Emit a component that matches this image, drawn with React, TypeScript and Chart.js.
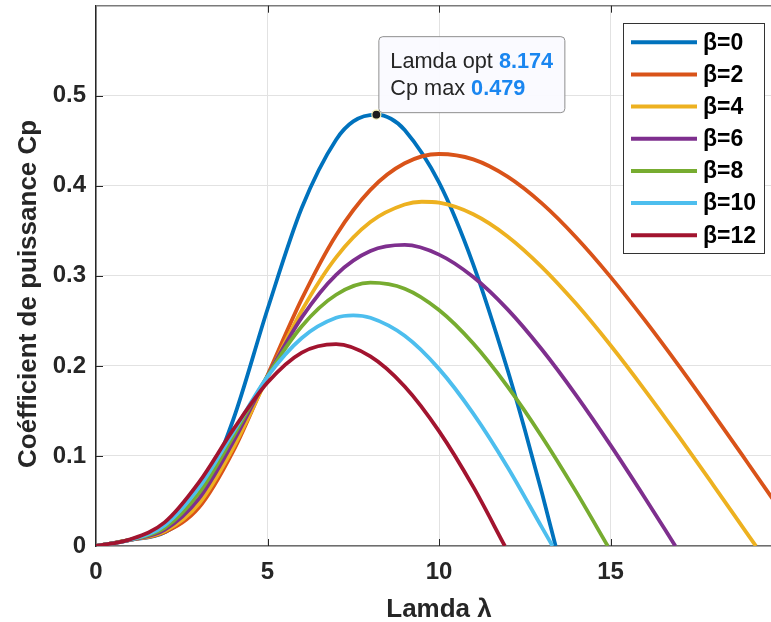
import React, { useEffect, useRef } from 'react';
import { Chart, registerables } from 'chart.js';

Chart.register(...registerables);

// ---- data ----
const LAMBDA_B0 = [0, 1, 2, 3, 4, 5, 6, 7, 7.5, 8.174, 8.6, 9, 10, 11, 12, 12.5, 13, 13.4];
const CP_B0 = [0, 0.0068, 0.0151, 0.0495, 0.1402, 0.2629, 0.3756, 0.4512, 0.4715, 0.479, 0.4745, 0.462, 0.4037, 0.3125, 0.1954, 0.1293, 0.059, 0];

const LAMBDA_B2 = [0, 1, 2, 3, 4, 5, 6, 7, 8, 9, 10, 11, 12, 13, 14, 15, 16, 17, 18, 19, 20];
const CP_B2 = [0, 0.0068, 0.0152, 0.0426, 0.1053, 0.1897, 0.2744, 0.3452, 0.3955, 0.425, 0.4353, 0.4293, 0.4101, 0.3804, 0.3426, 0.2989, 0.2508, 0.1997, 0.1465, 0.0922, 0.0375];

const LAMBDA_B4 = [0, 1, 2, 3, 4, 5, 6, 7, 8, 9, 9.5, 10, 11, 12, 13, 14, 15, 16, 17, 18, 19, 19.24];
const CP_B4 = [0, 0.0068, 0.0163, 0.0469, 0.1091, 0.187, 0.2615, 0.3206, 0.3598, 0.3792, 0.3823, 0.3812, 0.3684, 0.3438, 0.3098, 0.2689, 0.2229, 0.1732, 0.1211, 0.0674, 0.013, 0];

const LAMBDA_B6 = [0, 1, 2, 3, 4, 5, 6, 7, 8, 9, 10, 11, 12, 13, 14, 15, 16, 16.89];
const CP_B6 = [0, 0.0068, 0.0179, 0.0526, 0.1156, 0.1887, 0.2539, 0.3012, 0.3276, 0.3343, 0.3236, 0.2987, 0.2628, 0.2182, 0.1673, 0.112, 0.0536, 0];

const LAMBDA_B8 = [0, 1, 2, 3, 4, 5, 6, 7, 8, 9, 10, 11, 12, 13, 14, 14.92];
const CP_B8 = [0, 0.0069, 0.0201, 0.0587, 0.1215, 0.1888, 0.244, 0.279, 0.2924, 0.2857, 0.262, 0.2248, 0.177, 0.1214, 0.0601, 0];

const LAMBDA_B10 = [0, 1, 2, 3, 4, 5, 6, 7, 7.5, 8, 9, 10, 11, 12, 13, 13.31];
const CP_B10 = [0, 0.007, 0.0229, 0.0648, 0.1261, 0.188, 0.231, 0.2534, 0.2561, 0.2534, 0.2334, 0.1967, 0.147, 0.0875, 0.0207, 0];

const LAMBDA_B12 = [0, 1, 2, 3, 4, 5, 6, 7, 8, 9, 10, 11, 11.92];
const CP_B12 = [0, 0.0074, 0.0262, 0.0706, 0.1292, 0.1815, 0.2148, 0.2242, 0.2106, 0.1772, 0.1276, 0.0656, 0];

const SERIES_LABELS = ['β=0', 'β=2', 'β=4', 'β=6', 'β=8', 'β=10', 'β=12'];
const SERIES_COLORS = ['#0072BD', '#D95319', '#EDB120', '#7E2F8E', '#77AC30', '#4DBEEE', '#A2142F'];
const SERIES_LAMBDA = [LAMBDA_B0, LAMBDA_B2, LAMBDA_B4, LAMBDA_B6, LAMBDA_B8, LAMBDA_B10, LAMBDA_B12];
const SERIES_CP = [CP_B0, CP_B2, CP_B4, CP_B6, CP_B8, CP_B10, CP_B12];

const LAMBDA_OPT = 8.174;
const CP_MAX = 0.479;

const X_TICKS = [0, 5, 10, 15];
const Y_TICKS = [0, 0.1, 0.2, 0.3, 0.4, 0.5];
const X_TITLE = 'Lamda λ';
const Y_TITLE = 'Coéfficient de puissance Cp';

const FONT = '"Liberation Sans", Arial, Helvetica, sans-serif';

const overlayPlugin = {
  id: 'overlay',
  afterDraw(chart: any) {
    const { ctx, chartArea: ca, scales } = chart;
    const xs = scales.x;
    const ys = scales.y;
    ctx.save();

    // top box line
    ctx.strokeStyle = '#7a7a7a';
    ctx.lineWidth = 1.5;
    ctx.beginPath();
    ctx.moveTo(ca.left, ca.top);
    ctx.lineTo(ca.right, ca.top);
    ctx.stroke();

    // inward tick marks
    ctx.strokeStyle = '#262626';
    ctx.lineWidth = 1;
    ctx.beginPath();
    X_TICKS.forEach((v) => {
      if (v === 0) return;
      const px = Math.round(xs.getPixelForValue(v)) + 0.5;
      ctx.moveTo(px, ca.bottom);
      ctx.lineTo(px, ca.bottom - 7);
      ctx.moveTo(px, ca.top);
      ctx.lineTo(px, ca.top + 7);
    });
    Y_TICKS.forEach((v) => {
      if (v === 0) return;
      const py = Math.round(ys.getPixelForValue(v)) + 0.5;
      ctx.moveTo(ca.left, py);
      ctx.lineTo(ca.left + 7, py);
    });
    ctx.stroke();

    // axis titles
    ctx.fillStyle = '#262626';
    ctx.font = `bold 26px ${FONT}`;
    ctx.textAlign = 'center';
    ctx.textBaseline = 'alphabetic';
    ctx.fillText(X_TITLE, (ca.left + ca.right) / 2, 617);
    ctx.save();
    ctx.translate(36, 468);
    ctx.rotate(-Math.PI / 2);
    ctx.textAlign = 'left';
    ctx.fillText(Y_TITLE, 0, 0);
    ctx.restore();

    // data tip
    const px = xs.getPixelForValue(LAMBDA_OPT);
    const py = ys.getPixelForValue(CP_MAX);
    const bw = 186;
    const bh = 76;
    const bx = px + 2.5;
    const by = py - 2 - bh;
    ctx.beginPath();
    if (ctx.roundRect) ctx.roundRect(bx, by, bw, bh, 4);
    else ctx.rect(bx, by, bw, bh);
    ctx.fillStyle = 'rgba(250,250,255,0.97)';
    ctx.fill();
    ctx.strokeStyle = '#8f8f8f';
    ctx.lineWidth = 1;
    ctx.stroke();

    ctx.textAlign = 'left';
    ctx.textBaseline = 'middle';
    const drawPair = (lab: string, val: string, ty: number) => {
      ctx.font = `21.7px ${FONT}`;
      ctx.fillStyle = '#262626';
      ctx.fillText(lab, bx + 11.5, ty);
      const w = ctx.measureText(lab).width;
      ctx.font = `bold 21.7px ${FONT}`;
      ctx.fillStyle = '#1a86f0';
      ctx.fillText(val, bx + 11.5 + w, ty);
    };
    drawPair('Lamda opt ', LAMBDA_OPT.toFixed(3), by + 25);
    drawPair('Cp max ', CP_MAX.toFixed(3), by + 52);

    // legend
    const lx = 623;
    const ly = 23;
    const lw = 141;
    const lh = 230;
    ctx.fillStyle = '#ffffff';
    ctx.fillRect(lx, ly, lw, lh);
    ctx.strokeStyle = '#333333';
    ctx.lineWidth = 1;
    ctx.strokeRect(lx + 0.5, ly + 0.5, lw, lh);
    SERIES_LABELS.forEach((lab, i) => {
      const ry = 42.3 + i * 32.15;
      ctx.strokeStyle = SERIES_COLORS[i];
      ctx.lineWidth = 4;
      ctx.beginPath();
      ctx.moveTo(631, ry);
      ctx.lineTo(697, ry);
      ctx.stroke();
      ctx.fillStyle = '#000000';
      ctx.font = `bold 23px ${FONT}`;
      ctx.textBaseline = 'middle';
      ctx.fillText(lab, 703, ry + 1);
    });

    ctx.restore();
  },
};

export default function App() {
  const canvasRef = useRef<HTMLCanvasElement | null>(null);

  useEffect(() => {
    const canvas = canvasRef.current;
    if (!canvas) return;

    const lineSets = SERIES_LABELS.map((lab, i) => ({
      label: lab,
      data: SERIES_LAMBDA[i].map((l, j) => ({ x: l, y: SERIES_CP[i][j] })),
      borderColor: SERIES_COLORS[i],
      backgroundColor: SERIES_COLORS[i],
      borderWidth: 3.8,
      pointRadius: 0,
      fill: false,
      cubicInterpolationMode: 'monotone' as const,
      order: 10 - i,
    }));

    const dotSet = {
      label: 'max',
      data: [{ x: LAMBDA_OPT, y: CP_MAX }],
      showLine: false,
      pointRadius: 4.5,
      pointBackgroundColor: '#1c1c1c',
      pointBorderColor: '#f4efb0',
      pointBorderWidth: 1.2,
      borderColor: '#1c1c1c',
      order: 0,
    };

    const chart = new Chart(canvas, {
      type: 'line',
      data: { datasets: [...lineSets, dotSet] as any },
      options: {
        animation: false,
        responsive: false,
        devicePixelRatio: 1,
        events: [],
        layout: { padding: { left: 0, right: 18, top: 5, bottom: 0 } },
        plugins: {
          legend: { display: false },
          tooltip: { enabled: false },
          title: { display: false },
        },
        scales: {
          x: {
            type: 'linear',
            min: 0,
            max: 20,
            afterFit: (s: any) => {
              s.height = 76;
              s.paddingLeft = 0;
              s.paddingRight = 0;
            },
            border: { display: true, color: '#6e6e6e', width: 1.5 },
            grid: { color: '#e2e2e2', lineWidth: 1, drawTicks: false },
            ticks: {
              stepSize: 5,
              padding: 12,
              autoSkip: false,
              maxRotation: 0,
              color: '#262626',
              font: { family: FONT, size: 24, weight: 'bold' },
              callback: (v: any) => (X_TICKS.includes(Number(v)) ? String(v) : ''),
            },
          },
          y: {
            type: 'linear',
            min: 0,
            max: 0.6,
            afterFit: (s: any) => {
              s.width = 96;
              s.paddingTop = 0;
              s.paddingBottom = 0;
            },
            border: { display: true, color: '#262626', width: 1.5 },
            grid: { color: '#e2e2e2', lineWidth: 1, drawTicks: false },
            ticks: {
              stepSize: 0.1,
              padding: 10,
              autoSkip: false,
              color: '#262626',
              font: { family: FONT, size: 24, weight: 'bold' },
              callback: (v: any) => {
                const n = Number(v);
                if (n > 0.55) return '';
                return n === 0 ? '0' : n.toFixed(1);
              },
            },
          },
        },
      },
      plugins: [overlayPlugin],
    });

    return () => chart.destroy();
  }, []);

  return (
    <div
      style={{
        position: 'absolute',
        left: 0,
        top: 0,
        width: 771,
        height: 622,
        overflow: 'hidden',
        background: '#ffffff',
      }}
    >
      <canvas
        ref={canvasRef}
        width={800}
        height={622}
        style={{ display: 'block', width: 800, height: 622 }}
      />
    </div>
  );
}
